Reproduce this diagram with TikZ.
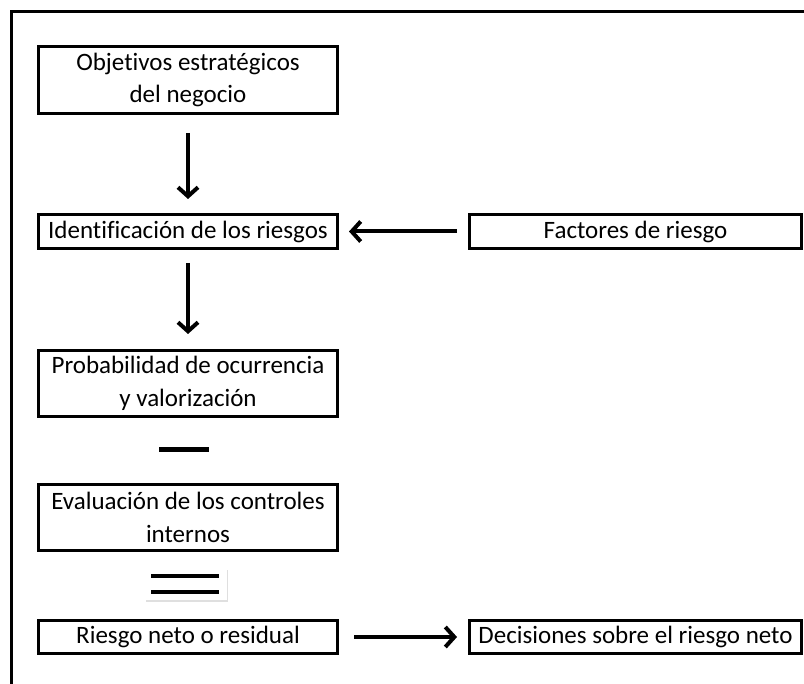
\documentclass[tikz,border=0pt]{standalone}
\usepackage{fontspec}
\setmainfont{Carlito}[Ligatures=NoCommon]
\usetikzlibrary{arrows.meta,shadows}
\begin{document}
\begin{tikzpicture}
      [x=1pt,y=-1pt,>={Straight Barb[length=9pt,width=20pt]},
       every node/.style={draw, line width=3pt, align=center, inner sep=0pt,
         font=\fontsize{25}{32.5}\selectfont, minimum width=299pt}]
    \useasboundingbox (0,0) rectangle (804,684);
    \draw[line width=3pt] (11,700) -- (11,12) -- (820,12);

    \node[minimum height=67pt] (obj) at (188,80) {Objetivos estratégicos\\del negocio};
    \node[minimum height=34pt] (ident) at (188,231.5) {Identificación de los riesgos};
    \node[minimum height=34pt, minimum width=332pt] (fact) at (635.5,231.5) {Factores de riesgo};
    \node[minimum height=66pt] (prob) at (188,383.5) {Probabilidad de ocurrencia\\y valorización};
    \node[minimum height=66pt] (eval) at (188,517.5) {Evaluación de los controles\\internos};
    \node[minimum height=33pt] (res) at (188,637) {Riesgo neto o residual};
    \node[minimum height=33pt, minimum width=332pt] (dec) at (635.5,637) {Decisiones sobre el riesgo neto};

    % menos e igual
    \draw[line width=5pt] (159,450) -- (209,450);
    \fill[white, drop shadow={opacity=0.25, shadow xshift=1pt, shadow yshift=-2pt}] (145,568) rectangle (227,600);
    \draw[line width=3.5pt] (151,576) -- (219,576) (151,592) -- (219,592);

    \foreach \from/\to/\a/\b in {obj/ident/18/14, ident/prob/13/15, fact/ident/11/10, res/dec/15/11}
      \draw (\from) edge[->, line width=4pt, shorten <=\a pt, shorten >=\b pt] (\to);
\end{tikzpicture}
\end{document}
